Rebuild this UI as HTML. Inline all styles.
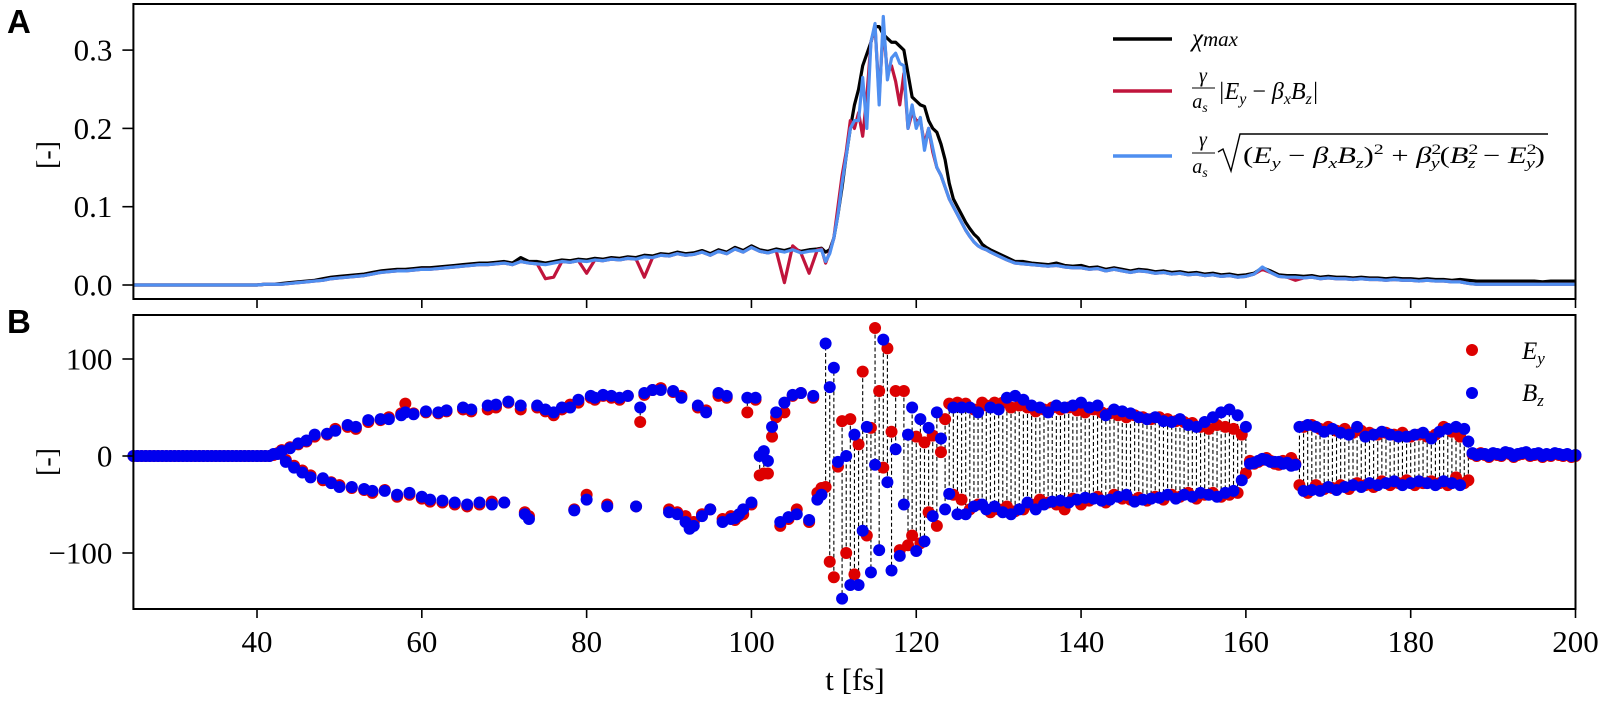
<!DOCTYPE html>
<html><head><meta charset="utf-8"><title>chi max and fields</title>
<style>
html,body{margin:0;padding:0;background:#fff;}
svg{display:block;font-family:"Liberation Serif",serif;}
</style></head>
<body>
<svg id="fig" width="1603" height="703" viewBox="0 0 1603 703" xmlns="http://www.w3.org/2000/svg">
  <g id="panelA"></g>
  <g id="panelB"></g>
  <text x="7" y="33" font-family="Liberation Sans, sans-serif" font-weight="bold" font-size="33">A</text>
  <text x="7" y="333" font-family="Liberation Sans, sans-serif" font-weight="bold" font-size="33">B</text>
  <text transform="translate(56,155) rotate(-90)" text-anchor="middle" font-size="28">[-]</text>
  <text transform="translate(56,462) rotate(-90)" text-anchor="middle" font-size="28">[-]</text>
  <text x="855" y="690" text-anchor="middle" font-size="31">t [fs]</text>

  <g font-style="italic">
    <g>
      <line x1="1113" y1="39" x2="1172" y2="39" stroke="#000" stroke-width="3.5"/>
      <text x="1192" y="46" font-size="25">χ<tspan font-size="21">max</tspan></text>
    </g>
    <g>
      <line x1="1113" y1="91" x2="1172" y2="91" stroke="#c0143c" stroke-width="3.5"/>
      <text x="1203" y="82" font-size="20" text-anchor="middle">γ</text>
      <line x1="1192" y1="88" x2="1215" y2="88" stroke="#000" stroke-width="1"/>
      <text x="1200" y="108" font-size="20" text-anchor="middle">a<tspan font-size="14" dy="4">s</tspan></text>
      <text x="1218" y="99" font-size="24">|E<tspan font-size="16" dy="5">y</tspan><tspan dy="-5" font-style="normal"> − </tspan>β<tspan font-size="16" dy="5">x</tspan><tspan dy="-5">B</tspan><tspan font-size="16" dy="5">z</tspan><tspan dy="-5">|</tspan></text>
    </g>
    <g>
      <line x1="1113" y1="156" x2="1172" y2="156" stroke="#4f8ff0" stroke-width="3.5"/>
      <text x="1203" y="146" font-size="20" text-anchor="middle">γ</text>
      <line x1="1192" y1="153" x2="1215" y2="153" stroke="#000" stroke-width="1"/>
      <text x="1200" y="173" font-size="20" text-anchor="middle">a<tspan font-size="14" dy="4">s</tspan></text>
      <path d="M1218,152 L1223,149 L1231,171 L1240,134 L1548,134" fill="none" stroke="#000" stroke-width="1.4"/>
      <text x="1243" y="163" font-size="23" textLength="302" lengthAdjust="spacingAndGlyphs"><tspan font-style="normal">(</tspan>E<tspan font-size="15" dy="5">y</tspan><tspan dy="-5" font-style="normal"> − </tspan>β<tspan font-size="15" dy="5">x</tspan><tspan dy="-5">B</tspan><tspan font-size="15" dy="5">z</tspan><tspan dy="-5" font-style="normal">)</tspan><tspan font-size="15" dy="-9" font-style="normal">2</tspan><tspan dy="9" font-style="normal"> + </tspan>β<tspan font-size="15" dy="-9" font-style="normal">2</tspan><tspan font-size="15" dx="-8" dy="14">y</tspan><tspan dy="-5" font-style="normal">(</tspan>B<tspan font-size="15" dy="-9" font-style="normal">2</tspan><tspan font-size="15" dx="-8" dy="14">z</tspan><tspan dy="-5" font-style="normal"> − </tspan>E<tspan font-size="15" dy="-9" font-style="normal">2</tspan><tspan font-size="15" dx="-8" dy="14">y</tspan><tspan dy="-5" font-style="normal">)</tspan></text>
    </g>
  </g>
  <g font-style="italic">
    <g>
      <circle cx="1472" cy="350" r="6" fill="#dd0000"/>
      <text x="1522" y="359" font-size="25">E<tspan font-size="17" dy="5">y</tspan></text>
    </g>
    <g>
      <circle cx="1472" cy="393" r="6" fill="#0000ee"/>
      <text x="1522" y="401" font-size="25">B<tspan font-size="17" dy="5">z</tspan></text>
    </g>
  </g>
</svg>
<script>
// ---------- Panel A data ----------
const tA = [25,26,27,28,29,30,31,32,33,34,35,36,37,38,39,40,41,42,43,44,45,46,47,48,49,50,51,52,53,54,55,56,57,58,59,60,61,62,63,64,65,66,67,68,69,70,71,72,73,74,75,76,77,78,79,80,81,82,83,84,85,86,87,88,89,90,91,92,93,94,95,96,97,98,99,100,101,102,103,104,105,106,107,
108,108.5,109,109.5,110,110.5,111,111.5,112,112.5,113,113.5,114,114.5,115,115.5,116,116.5,117,117.5,118,118.5,119,119.5,120,120.5,121,121.5,122,122.5,123,123.5,124,124.5,125,125.5,126,126.5,127,127.5,128,128.5,
129,130,131,132,133,134,135,136,137,138,139,140,141,142,143,144,145,146,147,148,149,150,151,152,153,154,155,156,157,158,159,160,161,162,163,164,165,166,167,168,169,170,171,172,173,174,175,176,177,178,179,180,181,182,183,184,185,186,187,188,189,190,191,192,193,194,195,196,197,198,199,200];
const chiMax = [0,0,0,0,0,0,0,0,0,0,0,0,0,0,0,0,
.001,.001,.002,.003,.004,.005,.006,.008,.01,.011,.012,.013,.014,.016,.018,.019,.02,.02,.021,.022,.022,.023,.024,.025,.026,.027,.028,.028,.029,.03,.028,.035,.03,.03,.028,.03,.032,.031,.033,.032,.034,.033,.035,.034,.036,.035,.038,.037,.04,.039,.042,.04,.041,.044,.04,.045,.042,.048,.044,.05,.045,.043,.046,.044,.047,.043,.045,
.046,.047,.042,.045,.06,.09,.125,.165,.2,.23,.25,.28,.295,.31,.33,.33,.32,.315,.31,.31,.305,.30,.27,.24,.235,.23,.228,.21,.2,.195,.18,.16,.13,.11,.1,.09,.08,.072,.065,.06,.052,.048,
.045,.04,.035,.03,.03,.028,.027,.026,.028,.025,.024,.025,.022,.023,.02,.022,.02,.018,.02,.019,.017,.018,.016,.017,.015,.016,.014,.015,.013,.014,.012,.013,.015,.022,.018,.013,.012,.012,.011,.012,.01,.011,.01,.01,.009,.01,.009,.009,.008,.009,.008,.008,.007,.008,.007,.007,.006,.007,.006,.005,.005,.005,.005,.005,.005,.005,.005,.004,.005,.005,.005,.005];
const redSeries = [0,0,0,0,0,0,0,0,0,0,0,0,0,0,0,0,
.001,.001,.001,.002,.003,.004,.005,.006,.008,.009,.01,.011,.012,.014,.016,.017,.018,.018,.019,.02,.02,.021,.022,.023,.024,.025,.026,.026,.027,.028,.026,.03,.028,.027,.008,.01,.03,.029,.031,.015,.032,.031,.033,.032,.034,.033,.01,.035,.038,.037,.04,.038,.039,.042,.038,.043,.04,.046,.042,.048,.043,.041,.044,.003,.05,.041,.015,
.045,.046,.028,.042,.06,.1,.14,.17,.21,.2,.22,.19,.24,.31,.33,.24,.33,.27,.28,.26,.23,.27,.2,.22,.21,.21,.18,.2,.17,.15,.14,.125,.11,.1,.09,.08,.07,.062,.055,.05,.047,.045,
.042,.037,.032,.028,.027,.026,.025,.024,.025,.023,.022,.022,.02,.021,.018,.02,.018,.016,.018,.017,.015,.016,.014,.015,.013,.014,.012,.013,.011,.012,.01,.011,.014,.02,.016,.011,.01,.006,.009,.01,.008,.009,.008,.008,.007,.008,.007,.007,.006,.007,.006,.006,.005,.006,.005,.005,.004,.004,.002,.001,.001,.001,.001,.001,.001,.001,.001,.001,.001,.001,.001,.001];
const blueSeries = [0,0,0,0,0,0,0,0,0,0,0,0,0,0,0,0,
.001,.001,.001,.002,.003,.004,.005,.006,.008,.009,.01,.011,.012,.014,.016,.017,.018,.018,.019,.02,.02,.021,.022,.023,.024,.025,.026,.026,.027,.028,.026,.03,.028,.027,.026,.028,.03,.029,.031,.03,.032,.031,.033,.032,.034,.033,.036,.035,.038,.037,.04,.038,.039,.042,.038,.043,.04,.046,.042,.048,.043,.041,.044,.042,.045,.041,.043,
.044,.045,.03,.04,.06,.09,.13,.165,.2,.21,.21,.265,.2,.31,.334,.23,.343,.262,.29,.296,.283,.28,.2,.23,.2,.214,.172,.2,.175,.15,.14,.125,.11,.1,.09,.08,.07,.062,.055,.05,.047,.045,
.042,.037,.032,.028,.027,.026,.025,.024,.025,.023,.022,.022,.02,.021,.018,.02,.018,.016,.018,.017,.015,.016,.014,.015,.013,.014,.012,.013,.011,.012,.01,.011,.014,.023,.016,.011,.01,.01,.009,.01,.008,.009,.008,.008,.007,.008,.007,.007,.006,.007,.006,.006,.005,.006,.005,.005,.004,.004,.002,.001,.001,.001,.001,.001,.001,.001,.001,.001,.001,.001,.001,.001];
const yTicksA = [0.0, 0.1, 0.2, 0.3];
const yTickLabelsA = ["0.0","0.1","0.2","0.3"];

// ---------- Panel B data ----------
const tB = [25,25.5,26,26.5,27,27.5,28,28.5,29,29.5,30,30.5,31,31.5,32,32.5,33,33.5,34,34.5,35,35.5,36,36.5,37,37.5,38,38.5,39,39.5,40,40.5,41,41.5,42,42.5,
43,43.5,44,44.5,45,45.5,46,46.5,47,48,48.5,49,49.5,50,51,51.5,52,53,53.5,54,55,55.5,56,57,57.5,58,58.5,59,60,60.5,61,62,62.5,63,64,65,65.5,66,67,68,68.5,69,70,70.5,72,72.5,73,74,75,76,77,78,78.5,79,80,80.5,81,82,82.5,83,84,85,86,86.5,87,88,89,90,90.5,91,91.5,92,92.5,93,93.5,94,94.5,95,96,96.5,97,97.5,98,98.5,99,99.5,100,
100.5,101,101.5,102,102.5,103,103.5,104,104.5,105,105.5,106,107,107.5,108,108.5,
109,109.5,110,110.5,111,111.5,112,112.5,113,113.5,114,114.5,115,115.5,116,116.5,117,117.5,118,118.5,119,119.5,120,120.5,121,121.5,122,122.5,123,123.5,124,124.5,125,125.5,
126,126.5,127,127.5,128,128.5,129,129.5,130,130.5,131,131.5,132,132.5,133,133.5,134,134.5,135,135.5,136,136.5,137,137.5,138,138.5,139,139.5,140,140.5,141,141.5,142,142.5,143,143.5,144,144.5,145,145.5,146,146.5,147,147.5,148,148.5,149,149.5,150,150.5,151,151.5,152,152.5,153,153.5,154,154.5,155,155.5,156,156.5,157,157.5,158,158.5,159,159.5,160,
160.5,161,161.5,162,162.5,163,163.5,164,164.5,165,165.5,166,166.5,
167,167.5,168,168.5,169,169.5,170,170.5,171,171.5,172,172.5,173,173.5,174,174.5,175,175.5,176,176.5,177,177.5,178,178.5,179,179.5,180,180.5,181,181.5,182,182.5,183,183.5,184,184.5,185,185.5,186,186.5,187,
187.5,188,188.5,189,189.5,190,190.5,191,191.5,192,192.5,193,193.5,194,194.5,195,195.5,196,196.5,197,197.5,198,198.5,199,199.5,200];
const eyValues = [0,0,0,0,0,0,0,0,0,0,0,0,0,0,0,0,0,0,0,0,0,0,0,0,0,0,0,0,0,0,0,0,0,0,1,3,
6,-4,9,-10,12,-15,15,-20,20,-25,22,-27,28,-30,30,-33,28,-35,35,-38,37,-35,40,-42,44,54,-40,44,-44,45,-47,44,-48,46,-50,48,-52,46,-50,48,-47,50,-48,55,48,-58,-62,50,46,42,48,53,-55,55,-40,60,58,62,-50,60,58,62,-52,35,63,68,70,-55,66,-58,62,-62,-70,-68,50,-60,47,-55,62,-65,60,-62,-66,-62,-60,45,-50,
58,-20,-18,-18,20,40,-72,45,-65,62,-55,65,-68,60,-38,-33,
-32,-109,-125,-11,36,-100,38,-122,12,87,-82,29,132,67,-12,111,25,67,-97,67,-92,-82,20,-90,14,-58,21,-72,4,38,54,-40,55,-45,
54,-55,48,-50,55,52,-58,55,-55,55,-52,50,-57,52,-55,50,-50,46,-45,48,-48,50,-50,48,-55,50,-44,47,-50,45,-46,48,-42,45,-48,44,-40,42,-44,40,-45,42,-43,40,-46,38,-42,40,-45,38,-40,36,-42,35,-38,34,-44,30,-40,28,-38,32,-42,30,-40,28,-38,22,-18,
-5,-8,-6,-4,-2,-5,-8,-9,-5,-6,-2,-8,-30,
30,-38,32,-30,28,-34,30,-33,26,-30,28,-34,24,-28,26,-30,24,-32,22,-26,24,-30,22,-28,24,-25,20,-30,22,-28,20,-26,22,-28,30,-30,25,-22,20,-28,-25,
2,0,3,1,-1,2,1,0,3,2,-1,1,2,3,0,1,2,-1,1,0,2,1,0,1,-1,0];
const bzValues = [0,0,0,0,0,0,0,0,0,0,0,0,0,0,0,0,0,0,0,0,0,0,0,0,0,0,0,0,0,0,0,0,0,0,2,2,
5,-6,8,-12,13,-17,16,-22,22,-23,23,-28,26,-32,32,-32,30,-34,37,-36,38,-36,38,-40,42,45,-38,43,-42,46,-45,45,-46,47,-48,50,-50,48,-48,52,-50,53,-48,56,52,-60,-65,52,48,45,50,50,-56,58,-45,62,60,63,-52,62,60,62,-52,50,65,68,68,-58,67,-60,60,-68,-75,-72,52,-62,45,-55,65,-68,62,-65,-64,-60,-55,60,-48,
60,0,5,-5,30,45,-68,55,-63,63,-60,65,-66,62,-45,-40,
116,71,91,-6,-147,0,-133,22,-133,-77,30,-120,-9,-97,120,-27,-118,7,-103,-50,22,50,-98,38,-88,29,-62,45,18,-55,-39,50,-60,50,
-60,50,-52,45,-50,-55,50,-52,48,-58,60,-60,62,-55,58,-48,52,-55,50,-50,45,-47,52,-46,50,-48,52,-45,55,-43,50,-44,52,-46,42,-45,48,-42,46,-40,44,-47,40,-45,38,-44,40,-43,36,-40,35,-44,38,-40,32,-42,30,-38,35,-40,40,-42,45,-38,48,-36,42,-25,30,
-8,-7,-5,-3,-4,-6,-6,-6,-8,-7,-10,-9,30,
-36,32,-35,30,-36,25,-32,28,-35,24,-32,22,-30,30,-32,20,-28,22,-30,25,-28,22,-26,20,-30,20,-28,22,-26,24,-28,18,-30,25,-26,28,-28,30,-30,28,15,
3,1,2,2,0,3,2,1,4,3,0,2,3,4,1,2,3,0,2,1,3,2,1,2,0,1];
const yTicksB = [-100, 0, 100];
const yTickLabelsB = ["\u2212100","0","100"];
const xTicks = [40,60,80,100,120,140,160,180,200];
const xTickLabels = ["40","60","80","100","120","140","160","180","200"];

// ---------- geometry ----------
const NS = "http://www.w3.org/2000/svg";
const L = 133.4, R = 1575.5;
const A_TOP = 4, A_BOT = 299, B_TOP = 315, B_BOT = 609;
function xScale(t){ return L + (t - 25) * (R - L) / 175; }
function yA(v){ return 285 - v * 783; }
function yB(v){ return 456 - v * 0.97; }
function mk(tag, attrs, parent){ const e = document.createElementNS(NS, tag); for (const k in attrs) e.setAttribute(k, attrs[k]); parent.appendChild(e); return e; }

const gA = document.getElementById('panelA');
const gB = document.getElementById('panelB');

function linePath(ts, vs){ let d = ""; for (let i = 0; i < ts.length; i++){ d += (i ? "L" : "M") + xScale(ts[i]).toFixed(2) + "," + yA(vs[i]).toFixed(2); } return d; }
const pBlack = mk('path', {d: linePath(tA, chiMax), fill:'none', stroke:'#000', 'stroke-width':3.2, 'stroke-linejoin':'round'}, gA);


const pRed = mk('path', {d: linePath(tA, redSeries), fill:'none', stroke:'#c0143c', 'stroke-width':3.2, 'stroke-linejoin':'round'}, gA);


const pBlue = mk('path', {d: linePath(tA, blueSeries), fill:'none', stroke:'#4f8ff0', 'stroke-width':3.2, 'stroke-linejoin':'round'}, gA);



for (let i = 0; i < tB.length; i++){
  const x = xScale(tB[i]);
  if (Math.abs(eyValues[i] - bzValues[i]) > 6){
    const ln = mk('line', {x1:x, y1:yB(eyValues[i]), x2:x, y2:yB(bzValues[i]), stroke:'#000', 'stroke-width':1.1, 'stroke-dasharray':'4,2.5'}, gB);
    
    
  }
}
for (let i = 0; i < tB.length; i++){
  const c = mk('circle', {cx:xScale(tB[i]), cy:yB(eyValues[i]), r:6, fill:'#dd0000'}, gB);
  
  
}
for (let i = 0; i < tB.length; i++){
  const c = mk('circle', {cx:xScale(tB[i]), cy:yB(bzValues[i]), r:6, fill:'#0000ee'}, gB);
  
  
}

function frame(g, top, bot, name){
  const f = mk('rect', {x:L, y:top, width:R-L, height:bot-top, fill:'none', stroke:'#000', 'stroke-width':2}, g);
  
  
  for (let i = 0; i < xTicks.length; i++){
    const x = xScale(xTicks[i]);
    const tk = mk('line', {x1:x, y1:bot, x2:x, y2:bot+9, stroke:'#000', 'stroke-width':1.6}, g);
    
    
  }
}
frame(gA, A_TOP, A_BOT, 'panel-a-frame');
frame(gB, B_TOP, B_BOT, 'panel-b-frame');
for (let i = 0; i < yTicksA.length; i++){
  const y = yA(yTicksA[i]);
  const tk = mk('line', {x1:L-11, y1:y, x2:L, y2:y, stroke:'#000', 'stroke-width':1.6}, gA);
  
  
  const lb = mk('text', {x:L-21, y:y+10.5, 'text-anchor':'end', 'font-size':31}, gA);
  lb.textContent = yTickLabelsA[i];
  
  
}
for (let i = 0; i < yTicksB.length; i++){
  const y = yB(yTicksB[i]);
  const tk = mk('line', {x1:L-11, y1:y, x2:L, y2:y, stroke:'#000', 'stroke-width':1.6}, gB);
  
  
  const lb = mk('text', {x:L-21, y:y+10.5, 'text-anchor':'end', 'font-size':31}, gB);
  lb.textContent = yTickLabelsB[i];
  
  
}
for (let i = 0; i < xTicks.length; i++){
  const lb = mk('text', {x:xScale(xTicks[i]), y:652, 'text-anchor':'middle', 'font-size':31}, gB);
  lb.textContent = xTickLabels[i];
  
  
}
</script>
</body></html>
